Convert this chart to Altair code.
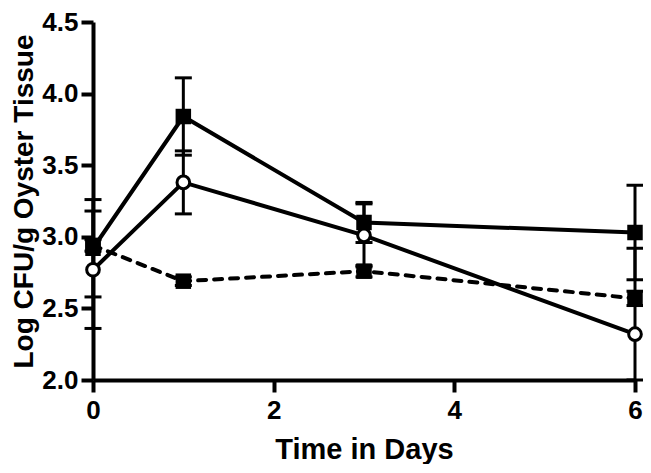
import altair as alt
import pandas as pd

days = [0, 1, 3, 6]

# solid line, filled squares
sq_mean = [2.92, 3.84, 3.10, 3.03]
sq_err = [0.34, 0.27, 0.14, 0.33]
# solid line, open circles
circ_mean = [2.77, 3.38, 3.01, 2.32]
circ_err = [0.41, 0.22, 0.22, 0.60]
# dashed line, filled squares
dash_mean = [2.94, 2.69, 2.76, 2.57]
dash_err = [0.04, 0.03, 0.04, 0.05]

series_names = ["sq", "circ", "dash"]
means = [sq_mean, circ_mean, dash_mean]
errs = [sq_err, circ_err, dash_err]

rows = []
for name, m, e in zip(series_names, means, errs):
    for d, mv, ev in zip(days, m, e):
        rows.append({"series": name, "day": d, "mean": mv, "err": ev})
df = pd.DataFrame(rows)

FONT = "Liberation Sans"

xscale = alt.Scale(domain=[0, 6], nice=False, zero=False)
yscale = alt.Scale(domain=[2, 4.5], nice=False, zero=False, clamp=True)
xaxis = alt.Axis(values=[0, 2, 4, 6], format="d", title="Time in Days", labelFlush=False)
yaxis = alt.Axis(values=[2.0, 2.5, 3.0, 3.5, 4.0, 4.5], format=".1f",
                 title="Log CFU/g Oyster Tissue", titleFontSize=28, labelFlush=False)


def X():
    return alt.X("day:Q", scale=xscale, axis=xaxis)


def Y(field):
    return alt.Y(field + ":Q", scale=yscale, axis=yaxis)


base = alt.Chart(df).transform_calculate(
    lo="datum.mean - datum.err", hi="datum.mean + datum.err"
)

bars = base.mark_rule(color="black", strokeWidth=3).encode(
    x=X(), y=Y("lo"), y2="hi:Q"
)
cap_lo = base.mark_tick(orient="horizontal", size=17, thickness=3, color="black", opacity=1).encode(
    x=X(), y=Y("lo")
)
cap_hi = base.mark_tick(orient="horizontal", size=17, thickness=3, color="black", opacity=1).encode(
    x=X(), y=Y("hi")
)

solid_lines = base.transform_filter(
    alt.FieldOneOfPredicate(field="series", oneOf=["sq", "circ"])
).mark_line(color="black", strokeWidth=4).encode(
    x=X(), y=Y("mean"), detail="series:N"
)
dash_line = base.transform_filter(
    alt.FieldEqualPredicate(field="series", equal="dash")
).mark_line(color="black", strokeWidth=4, strokeDash=[8, 8], strokeCap="round").encode(
    x=X(), y=Y("mean")
)

squares = base.transform_filter(
    alt.FieldOneOfPredicate(field="series", oneOf=["sq", "dash"])
).mark_point(shape="square", filled=True, color="black", size=240, opacity=1).encode(
    x=X(), y=Y("mean")
)
circles = base.transform_filter(
    alt.FieldEqualPredicate(field="series", equal="circ")
).mark_point(shape="circle", filled=True, fill="white", stroke="black",
             strokeWidth=3, size=160, opacity=1).encode(
    x=X(), y=Y("mean")
)

chart = alt.layer(
    bars, cap_lo, cap_hi, dash_line, solid_lines, squares, circles
).properties(
    width=542, height=358,
    autosize=alt.AutoSizeParams(type="none"),
    padding={"left": 85, "top": 14, "right": 8, "bottom": 84},
).configure_view(
    stroke=None
).configure_axis(
    grid=False,
    domainColor="black", domainWidth=4,
    tickColor="black", tickWidth=4, tickSize=12,
    labelFont=FONT, labelFontWeight="bold", labelFontSize=26, labelColor="black",
    labelPadding=4,
    titleFont=FONT, titleFontWeight="bold", titleFontSize=29, titleColor="black",
).configure_axisY(
    titlePadding=3, labelPadding=3
).configure_axisX(
    titlePadding=12, labelPadding=5
)

chart.save("out.html", embed_options={"renderer": "svg", "actions": False})
